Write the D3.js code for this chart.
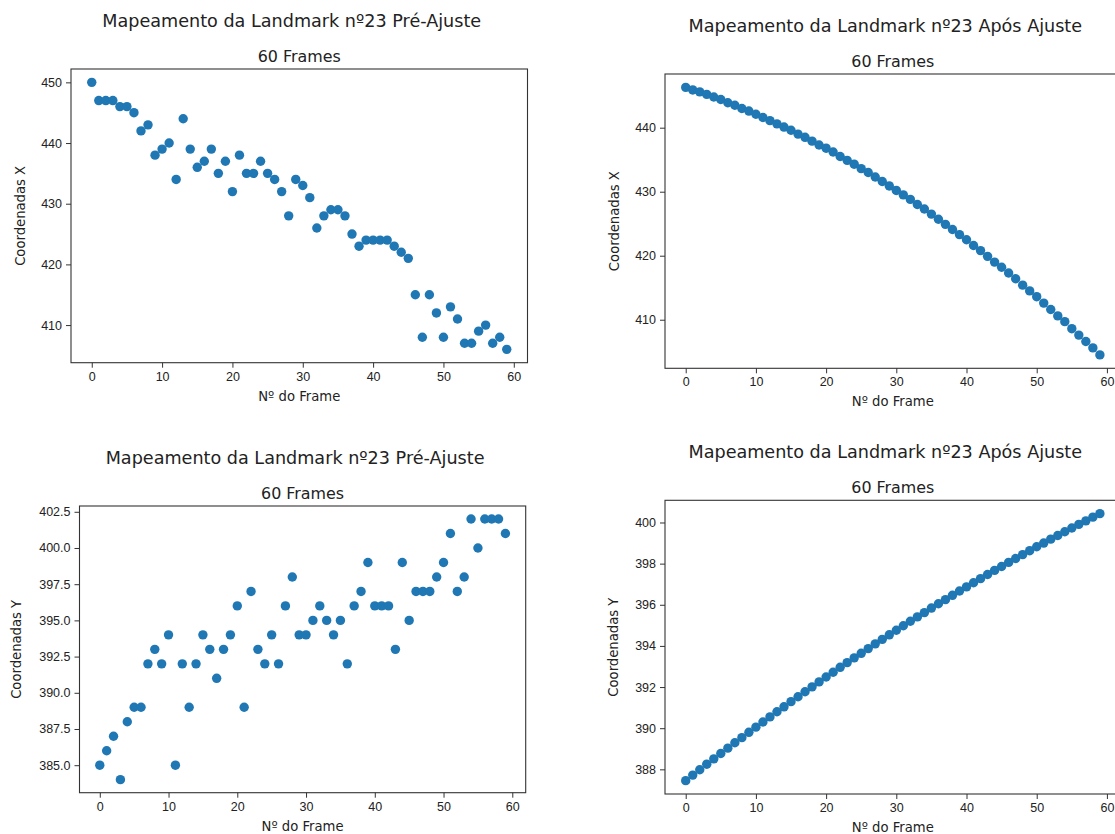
<!DOCTYPE html>
<html>
<head>
<meta charset="utf-8">
<script src="https://cdn.jsdelivr.net/npm/d3@7"></script>
<style>
  body { margin: 0; background: #fff; }
  svg { display: block; font-family: "DejaVu Sans", sans-serif; }
  .tick text { fill: #222; }
</style>
</head>
<body>
<svg id="chart"></svg>
<script>
// frame index (x for every panel)
const frames = [0,1,2,3,4,5,6,7,8,9,10,11,12,13,14,15,16,17,18,19,20,21,22,23,24,25,26,27,28,29,
                30,31,32,33,34,35,36,37,38,39,40,41,42,43,44,45,46,47,48,49,50,51,52,53,54,55,56,57,58,59];

// landmark 23, x coordinate before the fit
const xPre = [450,447,447,447,446,446,445,442,443,438,439,440,434,444,439,436,437,439,435,437,
              432,438,435,435,437,435,434,432,428,434,433,431,426,428,429,429,428,425,423,424,
              424,424,424,423,422,421,415,408,415,412,408,413,411,407,407,409,410,407,408,406];

// landmark 23, x coordinate after the fit
const xPost = [446.3,445.9,445.6,445.2,444.8,444.4,443.9,443.5,443.0,442.6,442.1,441.6,441.1,440.6,440.1,
               439.6,439.0,438.5,437.9,437.3,436.8,436.2,435.5,434.9,434.3,433.6,433.0,432.3,431.6,430.9,
               430.2,429.5,428.8,428.0,427.3,426.5,425.7,424.9,424.1,423.3,422.5,421.6,420.8,419.9,419.0,
               418.2,417.3,416.4,415.4,414.5,413.6,412.6,411.6,410.6,409.7,408.6,407.6,406.6,405.6,404.5];

// landmark 23, y coordinate before the fit
const yPre = [385,386,387,384,388,389,389,392,393,392,394,385,392,389,392,394,393,391,393,394,
              396,389,397,393,392,394,392,396,398,394,394,395,396,395,394,395,392,396,397,399,
              396,396,396,393,399,395,397,397,397,398,399,401,397,398,402,400,402,402,402,401];

// landmark 23, y coordinate after the fit
const yPost = [387.45,387.72,387.98,388.25,388.51,388.77,389.03,389.29,389.54,389.80,390.05,390.30,390.55,390.80,391.04,
               391.29,391.53,391.77,392.01,392.25,392.49,392.72,392.96,393.19,393.42,393.64,393.87,394.10,394.32,394.54,
               394.76,394.98,395.20,395.41,395.62,395.84,396.05,396.25,396.46,396.67,396.87,397.07,397.27,397.47,397.67,
               397.86,398.06,398.25,398.44,398.63,398.82,399.00,399.19,399.37,399.55,399.73,399.91,400.08,400.26,400.43];

const xTicks = [0,10,20,30,40,50,60];
const yTicksXPre = [410,420,430,440,450];
const yTicksXPost = [410,420,430,440];
const yTicksYPre = [385,387.5,390,392.5,395,397.5,400,402.5];
const yTicksYPost = [388,390,392,394,396,398,400];

const titlePre = "Mapeamento da Landmark nº23 Pré-Ajuste";
const titlePost = "Mapeamento da Landmark nº23 Após Ajuste";
const subtitle = "60 Frames";
const xLabel = "Nº do Frame";

const svg = d3.select('#chart')
    .attr('width', 1115)
    .attr('height', 834);

// matplotlib-like 5% padding around the data
function padded(ext) {
    const p = (ext[1] - ext[0]) * 0.05;
    return [ext[0] - p, ext[1] + p];
}

function drawPanel(cfg) {
    const g = svg.append('g')
        .attr('transform', `translate(${cfg.left},${cfg.top})`);

    const xScale = d3.scaleLinear()
        .domain(padded(d3.extent(frames)))
        .range([0, cfg.width]);

    const yScale = d3.scaleLinear()
        .domain(padded(d3.extent(cfg.values)))
        .range([cfg.height, 0]);

    const xAxis = d3.axisBottom(xScale)
        .tickValues(xTicks)
        .tickSize(5)
        .tickPadding(4)
        .tickFormat(d3.format('d'));

    const yAxis = d3.axisLeft(yScale)
        .tickValues(cfg.yTicks)
        .tickSize(5)
        .tickPadding(4)
        .tickFormat(cfg.yFormat);

    g.append('g')
        .attr('transform', `translate(0,${cfg.height})`)
        .style('font-size', '12.5px')
        .call(xAxis)
        .call(a => a.select('.domain').remove())
        .call(a => a.selectAll('line').attr('stroke', '#333').attr('stroke-width', 1));

    g.append('g')
        .style('font-size', '12.5px')
        .call(yAxis)
        .call(a => a.select('.domain').remove())
        .call(a => a.selectAll('line').attr('stroke', '#333').attr('stroke-width', 1));

    g.selectAll('circle')
        .data(frames)
        .join('circle')
        .attr('cx', d => xScale(d))
        .attr('cy', (d, i) => yScale(cfg.values[i]))
        .attr('r', 4.7)
        .attr('fill', '#1f77b4');

    // axes frame
    g.append('rect')
        .attr('width', cfg.width)
        .attr('height', cfg.height)
        .attr('fill', 'none')
        .attr('stroke', '#333')
        .attr('stroke-width', 1.1);

    g.append('text')
        .attr('x', cfg.width / 2 - 7.5)
        .attr('y', -42)
        .attr('text-anchor', 'middle')
        .attr('fill', '#222')
        .style('font-size', '17.6px')
        .text(cfg.title);

    g.append('text')
        .attr('x', cfg.width / 2)
        .attr('y', -7)
        .attr('text-anchor', 'middle')
        .attr('fill', '#222')
        .style('font-size', '15.9px')
        .text(subtitle);

    g.append('text')
        .attr('x', cfg.width / 2)
        .attr('y', cfg.height + 38)
        .attr('text-anchor', 'middle')
        .attr('fill', '#222')
        .style('font-size', '13.2px')
        .text(xLabel);

    g.append('text')
        .attr('transform', `translate(${-cfg.labelOffset},${cfg.height / 2}) rotate(-90)`)
        .attr('text-anchor', 'middle')
        .attr('dy', '0.35em')
        .attr('fill', '#222')
        .style('font-size', '13.2px')
        .text(cfg.yLabel);
}

drawPanel({left: 71, top: 69, width: 456.5, height: 293.7, values: xPre,
    yTicks: yTicksXPre, yFormat: d3.format('d'), title: titlePre,
    yLabel: 'Coordenadas X', labelOffset: 50.5});

drawPanel({left: 665, top: 74, width: 455.6, height: 294.3, values: xPost,
    yTicks: yTicksXPost, yFormat: d3.format('d'), title: titlePost,
    yLabel: 'Coordenadas X', labelOffset: 51});

drawPanel({left: 79.5, top: 506, width: 446.2, height: 286.7, values: yPre,
    yTicks: yTicksYPre, yFormat: d3.format('.1f'), title: titlePre,
    yLabel: 'Coordenadas Y', labelOffset: 63});

drawPanel({left: 665, top: 500.3, width: 455.6, height: 293.7, values: yPost,
    yTicks: yTicksYPost, yFormat: d3.format('d'), title: titlePost,
    yLabel: 'Coordenadas Y', labelOffset: 52});
</script>
</body>
</html>
